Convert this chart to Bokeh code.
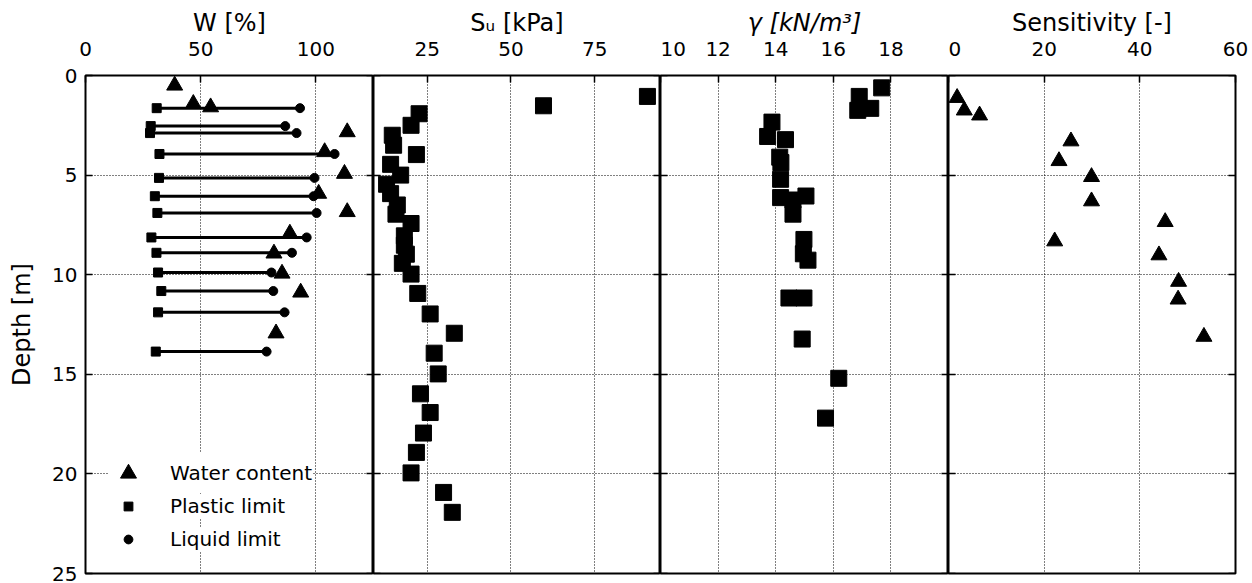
from bokeh.plotting import figure
from bokeh.layouts import row
from bokeh.models import Range1d, LinearAxis, FixedTicker, Legend, LegendItem
from bokeh.embed import file_html
from bokeh.resources import INLINE

# ---------------- data ----------------
w_depth = [0.5, 1.42, 1.59, 2.84, 3.84, 4.93, 5.93, 6.85, 7.93, 8.93, 9.94, 10.89, 12.94]
w_content = [38.7, 46.8, 54.3, 113.6, 103.8, 112.4, 101.2, 113.6, 88.7, 81.8, 85.3, 93.4, 82.7]

limit_depth = [1.64, 2.54, 2.89, 3.94, 5.14, 6.06, 6.90, 8.13, 8.90, 9.89, 10.82, 11.89, 13.86]
plastic_limit = [30.9, 28.3, 28.0, 32.1, 31.9, 30.1, 31.2, 28.6, 30.8, 31.5, 32.9, 31.5, 30.5]
liquid_limit = [93.1, 86.7, 91.6, 108.1, 99.4, 99.0, 100.3, 96.0, 89.6, 80.7, 81.5, 86.4, 78.6]

su_depth = [1.05, 1.52, 1.92, 2.5, 3.0, 3.5, 3.97, 4.46, 5.0, 5.46, 5.93, 6.5, 6.96, 7.43,
            8.05, 8.52, 8.97, 9.43, 9.97, 10.94, 11.97, 12.94, 13.94, 14.98, 15.98, 16.92,
            17.95, 18.92, 19.95, 20.93, 21.93]
su = [90.7, 59.7, 22.6, 20.2, 14.6, 15.0, 21.8, 14.1, 17.1, 12.9, 14.1, 16.1, 15.7, 20.2,
      18.2, 18.2, 18.8, 17.6, 20.2, 22.2, 25.9, 33.1, 27.1, 28.3, 23.0, 25.9,
      23.9, 21.8, 20.2, 29.9, 32.5]

gamma_depth = [0.62, 1.05, 1.75, 1.65, 2.34, 3.06, 3.22, 4.1, 4.37, 5.21, 6.13, 6.25, 6.05,
               6.96, 8.23, 8.95, 9.27, 11.17, 11.17, 13.23, 15.2, 17.2]
gamma = [17.68, 16.9, 16.85, 17.3, 13.87, 13.72, 14.34, 14.14, 14.18, 14.17, 14.17, 14.6, 15.05,
         14.6, 14.98, 14.96, 15.12, 14.46, 14.98, 14.92, 16.19, 15.73]

sens_depth = [1.12, 1.75, 2.0, 3.3, 4.29, 5.09, 6.31, 7.35, 8.32, 9.02, 10.35, 11.24, 13.11]
sensitivity = [1.8, 3.3, 6.5, 25.6, 23.1, 29.9, 29.9, 45.3, 22.2, 44.0, 48.1, 48.0, 53.4]

depth_ticks = [0, 5, 10, 15, 20, 25]
w_ticks = [0, 50, 100]
su_ticks = [25, 50, 75]
gamma_ticks = [10, 12, 14, 16, 18]
sens_ticks = [0, 20, 40, 60]

FONT = "DejaVu Sans"
TICK_FS = "20px"
LABEL_FS = "24px"

y_range = Range1d(25, 0)


def side_axis(loc, side, p):
    ax = LinearAxis(fixed_location=loc, ticker=FixedTicker(ticks=depth_ticks),
                    major_tick_in=7, major_tick_out=0, minor_tick_in=0, minor_tick_out=0,
                    axis_line_color=None, major_label_text_color=None,
                    major_tick_line_color="black", major_tick_line_width=1.5)
    p.add_layout(ax, side)


def make_fig(x0, x1, width, bl, br, xticks, xlabel, first=False, label_style="normal"):
    p = figure(width=width, height=583, x_range=Range1d(x0, x1), y_range=y_range,
               x_axis_location="above", y_axis_location="left" if first else None,
               output_backend="svg", toolbar_location=None,
               min_border_left=bl, min_border_right=br, min_border_top=75, min_border_bottom=10,
               background_fill_color="white", border_fill_color="white")
    p.outline_line_color = "black"
    p.outline_line_width = 2
    xa = p.xaxis[0]
    xa.ticker = FixedTicker(ticks=xticks)
    xa.major_tick_in = 7
    xa.major_tick_out = 0
    xa.minor_tick_in = 0
    xa.minor_tick_out = 0
    xa.axis_line_color = None
    xa.major_tick_line_color = "black"
    xa.major_tick_line_width = 1.5
    xa.major_label_text_font = FONT
    xa.major_label_text_font_size = TICK_FS
    xa.major_label_text_color = "black"
    xa.major_label_standoff = 20
    xa.axis_label = xlabel
    xa.axis_label_text_font = FONT
    xa.axis_label_text_font_size = LABEL_FS
    xa.axis_label_text_font_style = label_style
    xa.axis_label_text_color = "black"
    xa.axis_label_standoff = 2
    p.xgrid.ticker = FixedTicker(ticks=xticks)
    p.ygrid.ticker = FixedTicker(ticks=depth_ticks)
    for g in (p.xgrid, p.ygrid):
        g.grid_line_color = "black"
        g.grid_line_width = 1
        g.grid_line_dash = "1 2"
    if first:
        ya = p.yaxis[0]
        ya.ticker = FixedTicker(ticks=depth_ticks)
        ya.major_tick_in = 7
        ya.major_tick_out = 0
        ya.minor_tick_in = 0
        ya.minor_tick_out = 0
        ya.axis_line_color = None
        ya.major_tick_line_color = "black"
        ya.major_tick_line_width = 1.5
        ya.major_label_text_font = FONT
        ya.major_label_text_font_size = TICK_FS
        ya.major_label_text_color = "black"
        ya.major_label_standoff = 8
        ya.axis_label = "Depth [m]"
        ya.axis_label_text_font = FONT
        ya.axis_label_text_font_size = LABEL_FS
        ya.axis_label_text_font_style = "normal"
        ya.axis_label_text_color = "black"
        ya.axis_label_standoff = 13
    else:
        side_axis(x0, "left", p)
    side_axis(x1, "right", p)
    return p


def legend_entry(label, renderer, glyph, loc, standoff, pad=6):
    return Legend(items=[LegendItem(label=label, renderers=[renderer])],
                  location=loc, border_line_color=None, background_fill_color="white",
                  background_fill_alpha=1.0, label_text_font=FONT, label_text_font_size="20px",
                  label_text_color="black", glyph_width=glyph, glyph_height=glyph,
                  label_height=20, spacing=0, padding=pad, margin=0, label_standoff=standoff)


# Panel 1: water content & limits
p1 = make_fig(0, 125, 373, 85, 0, w_ticks, "W [%]", first=True)
p1.segment(x0=plastic_limit, y0=limit_depth, x1=liquid_limit, y1=limit_depth,
           line_color="black", line_width=3)
r_w = p1.scatter(w_content, w_depth, marker="triangle", size=16, color="black")
r_pl = p1.scatter(plastic_limit, limit_depth, marker="square", size=9, color="black")
r_ll = p1.scatter(liquid_limit, limit_depth, marker="circle", size=9, color="black")
p1.add_layout(legend_entry("Water content", r_w, 40, (23, 80), 22))
p1.add_layout(legend_entry("Plastic limit", r_pl, 22, (32, 55), 31))
p1.add_layout(legend_entry("Liquid limit", r_ll, 22, (32, 22), 31))

# Panel 2: undrained shear strength
p2 = make_fig(9.0, 94.6, 287, 0, 0, su_ticks, "S\u1d64 [kPa]")
p2.scatter(su, su_depth, marker="square", size=16, color="black")

# Panel 3: unit weight
p3 = make_fig(10, 20, 288, 0, 0, gamma_ticks, "\u03b3 [kN/m\u00b3]", label_style="italic")
p3.scatter(gamma, gamma_depth, marker="square", size=16, color="black")

# Panel 4: sensitivity
p4 = make_fig(0, 60, 304, 0, 17, sens_ticks, "Sensitivity [-]")
p4.scatter(sensitivity, sens_depth, marker="triangle", size=16, color="black")

layout = row(p1, p2, p3, p4, spacing=0)
open("out.html", "w").write(file_html(layout, INLINE))
